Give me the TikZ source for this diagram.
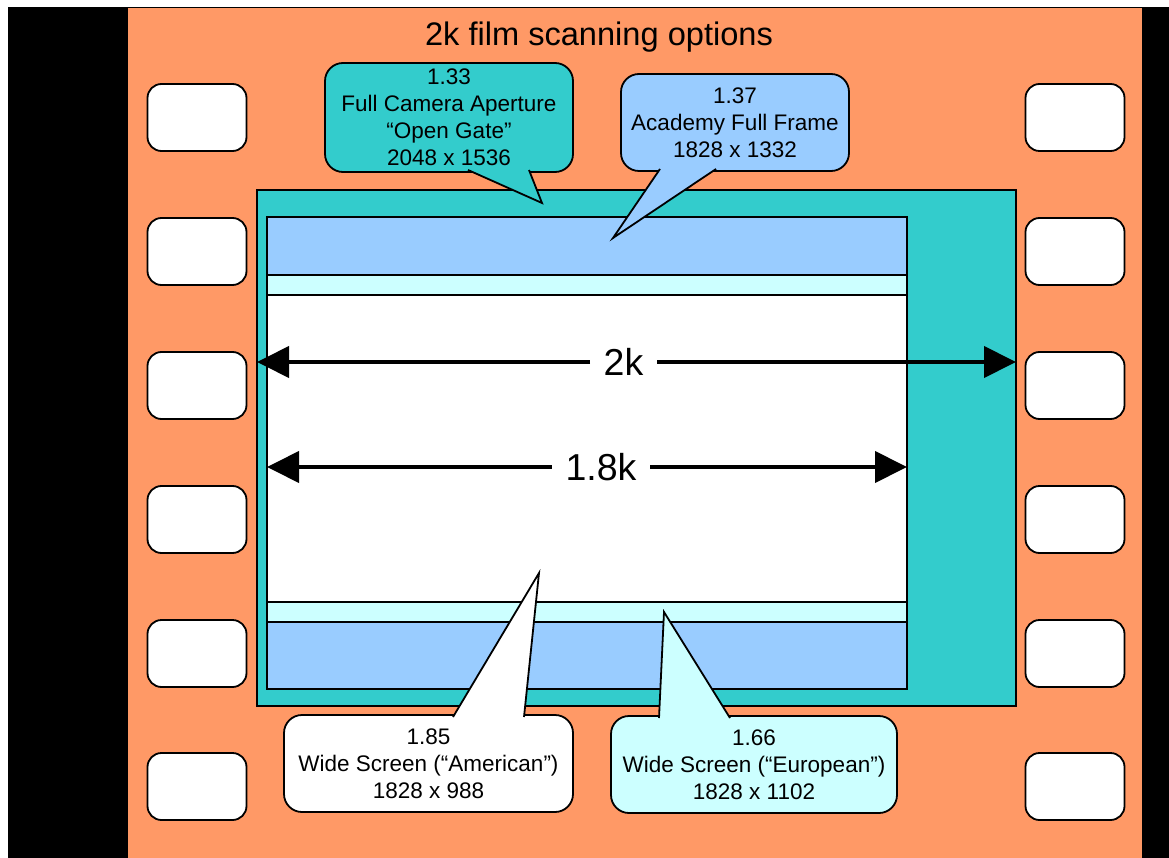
\documentclass[tikz,border=0pt]{standalone}
\usepackage{fontspec}
\setmainfont{Liberation Sans}
\usetikzlibrary{arrows.meta}
\definecolor{filmorange}{HTML}{FF9966}
\definecolor{fullapcol}{HTML}{33CCCC}
\definecolor{academycol}{HTML}{99CCFF}
\definecolor{eurocol}{HTML}{CCFFFF}
\tikzset{
    filmframe/.style = {draw, line width=1.5pt, inner sep=0pt, outer sep=0pt},
    sprocket/.style  = {draw, fill=white, line width=1.8pt, rounded corners=14pt,
                        minimum width=99pt, minimum height=67pt},
    bubble/.style    = {draw, line width=1.8pt, rounded corners=18pt, align=center,
                        inner sep=0pt, font=\fontsize{22.5}{27}\selectfont},
    notewedge/.style = {line width=1.8pt},
    dimarrow/.style  = {line width=4pt, -{Triangle[length=32pt,width=31pt]}},
    dimlabel/.style  = {font=\fontsize{37.5}{40}\selectfont, inner xsep=13.5pt}
}

\begin{document}
\begin{tikzpicture}[x=1pt, y=-1pt]
          \useasboundingbox (0,0) rectangle (1169,858);
          \fill[white] (0,0) rectangle (1169,858);

          % the film strip
          \begin{scope}
            \fill[black] (8,7) rectangle (1169,858);
            \fill[filmorange] (128,8.5) rectangle (1142,858);
            \node[font=\fontsize{32.6}{36}\selectfont] (title) at (599,37) {2k film scanning options};
            \foreach \y [count=\i] in {117.5,251.5,385.5,519.5,653.5,786.5} {
              \node[sprocket] (left\i) at (197,\y) {};
              \node[sprocket] (right\i) at (1075,\y) {};
            }
          \end{scope}

          % scan areas
          \begin{scope}
            \node[filmframe, fill=fullapcol, minimum width=759pt, minimum height=516pt] (fullap) at (636.5,448) {};
            \node[filmframe, fill=academycol, minimum width=640pt, minimum height=472pt] (academy) at (587,453) {};
            \node[filmframe, fill=eurocol, minimum width=640pt, minimum height=347pt] (euro) at (587,448.5) {};
            \node[filmframe, fill=white, minimum width=640pt, minimum height=307pt] (amer) at (587,448.5) {};
          \end{scope}

          % widths
          \begin{scope}
            \node[dimlabel] (twok) at (623.5,362) {2k};
            \draw[dimarrow] (twok) -- (twok -| fullap.west);
            \draw[dimarrow] (twok) -- (twok -| fullap.east);
            \node[dimlabel] (onepteight) at (601,467) {1.8k};
            \draw[dimarrow] (onepteight) -- (onepteight -| academy.west);
            \draw[dimarrow] (onepteight) -- (onepteight -| academy.east);
          \end{scope}

          % callouts
          \begin{scope}
            \node[bubble, fill=fullapcol, minimum width=248pt, minimum height=109pt] (fullapnote) at (449,117.5)
              {1.33\\Full Camera Aperture\\“Open Gate”\\2048 x 1536};
            \coordinate (fullaptip) at (542,203);
            \filldraw[notewedge, fill=fullapcol] (468,170) -- (fullaptip) -- (529,170);

            \node[bubble, fill=academycol, minimum width=228pt, minimum height=97pt] (academynote) at (735,122.5)
              {1.37\\Academy Full Frame\\1828 x 1332};
            \coordinate (academytip) at (613,238);
            \filldraw[notewedge, fill=academycol] (660,169) -- (academytip) -- (716,169);

            \node[bubble, fill=white, minimum width=289pt, minimum height=97pt] (amernote) at (428.5,763.5)
              {1.85\\Wide Screen (“American”)\\1828 x 988};
            \coordinate (amertip) at (539,573);
            \filldraw[notewedge, fill=white] (453,717) -- (amertip) -- (524,717);

            \node[bubble, fill=eurocol, minimum width=286pt, minimum height=97pt] (euronote) at (754,764.5)
              {1.66\\Wide Screen (“European”)\\1828 x 1102};
            \coordinate (eurotip) at (664,612);
            \filldraw[notewedge, fill=eurocol] (659,718) -- (eurotip) -- (730,718);
          \end{scope}
        \end{tikzpicture}
\end{document}
